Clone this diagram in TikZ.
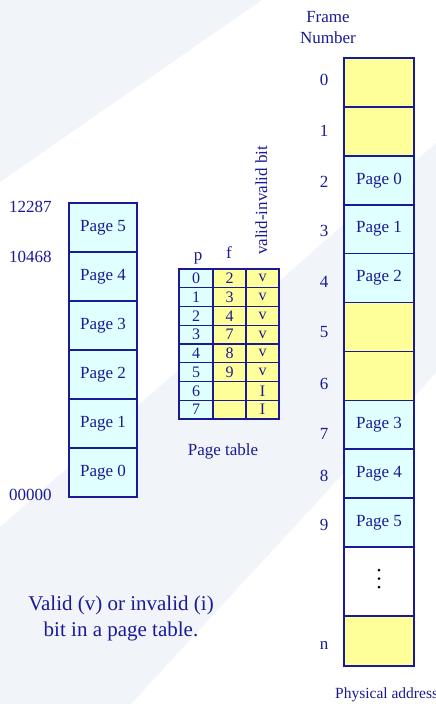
\documentclass[tikz,border=0pt]{standalone}
\usepackage{fontspec}
\setmainfont{Liberation Serif}
\usetikzlibrary{positioning}

\definecolor{ink}{RGB}{26,26,150}
\definecolor{pagecyan}{RGB}{224,255,255}
\definecolor{freeyellow}{RGB}{255,255,153}
\definecolor{band}{RGB}{241,245,249}

\begin{document}
\begin{tikzpicture}[
        x=1pt, y=-1pt,
        node distance=0pt,
        page_style/.style={draw=ink, line width=1.6pt, fill=pagecyan, minimum width=68pt, minimum height=49pt, inner sep=0pt, outer sep=0pt, text=ink, font=\fontsize{17}{20}\selectfont},
        frame_style/.style={page_style, minimum width=70pt, minimum height=48.9pt},
        free_style/.style={frame_style, fill=freeyellow},
        cell_style/.style={draw=ink, line width=1.4pt, minimum width=33pt, minimum height=18.75pt, inner sep=0pt, outer sep=0pt, text=ink, font=\fontsize{16}{18}\selectfont},
        label_style/.style={text=ink, inner sep=0pt, font=\fontsize{17}{20}\selectfont}
    ]
    \clip (0,0) rectangle (436,704);

    % Background bands
    \fill[band] (0,0) -- (262,0) -- (0,182) -- cycle;
    \fill[band] (0,527) -- (436,143) -- (436,373) -- (131,704) -- (0,704) -- cycle;

    % Logical memory
    \node[page_style] (L0) at (103,472.5) {Page 0};
    \node[page_style, above=of L0] (L1) {Page 1};
    \node[page_style, above=of L1] (L2) {Page 2};
    \node[page_style, above=of L2] (L3) {Page 3};
    \node[page_style, above=of L3] (L4) {Page 4};
    \node[page_style, above=of L4] (L5) {Page 5};

    % Addresses beside it
    \node[label_style, anchor=west] (A5) at (9,207) {12287};
    \node[label_style, anchor=west] (A4) at (9,257) {10468};
    \node[label_style, anchor=west] (A0) at (9,495) {00000};

    % Page table
    \foreach \r/\f/\v in {0/2/v,1/3/v,2/4/v,3/7/v,4/8/v,5/9/v,6//I,7//I} {
        \node[cell_style, fill=pagecyan, minimum width=34pt] (P\r) at (196,278.4+\r*18.75) {\r};
        \node[cell_style, fill=freeyellow] (F\r) at (229.5,278.4+\r*18.75) {\f};
        \node[cell_style, fill=freeyellow] (V\r) at (262.5,278.4+\r*18.75) {\v};
    }
    \node[label_style, anchor=base] (Phead) at (198,260) {p};
    \node[label_style, anchor=base] (Fhead) at (229,258) {f};
    \node[label_style, rotate=90, anchor=base west] (Vhead) at (267,255) {valid-invalid bit};
    \node[label_style, anchor=base] (PTname) at (223,455) {Page table};

    % Physical memory
    \node[free_style] (M0) at (379,82.45) {};
    \node[free_style, below=of M0] (M1) {};
    \node[frame_style, below=of M1] (M2) {Page 0};
    \node[frame_style, below=of M2] (M3) {Page 1};
    \node[frame_style, below=of M3] (M4) {Page 2};
    \node[free_style, below=of M4] (M5) {};
    \node[free_style, below=of M5] (M6) {};
    \node[frame_style, below=of M6] (M7) {Page 3};
    \node[frame_style, below=of M7] (M8) {Page 4};
    \node[frame_style, below=of M8] (M9) {Page 5};
    \node[frame_style, fill=white, minimum height=69pt, below=of M9] (Mdots) {};
    \node[free_style, minimum height=50pt, below=of Mdots] (Mn) {};
    % the gap between frame 9 and frame n
    \foreach \d in {-11.5,-3,5.5}
        \fill (Mdots.center) ++(0,\d) circle (1.5pt);

    % Frame numbers
    \foreach \n/\y in {0/80,1/131,2/182,3/231,4/282,5/332,6/384,7/434,8/476,9/525,n/645}
        \node[label_style] (N\n) at (324,\y) {\n};
    \node[label_style, anchor=base] (FrameA) at (328,23) {Frame};
    \node[label_style, anchor=base] (FrameB) at (328,43) {Number};
    \node[label_style, anchor=base west, font=\fontsize{15.5}{18}\selectfont] (Phys) at (335,698) {Physical address};

    % Caption
    \node[label_style, align=center, font=\fontsize{21}{26}\selectfont] (caption) at (121,618) {Valid (v) or invalid (i)\\bit in a page table.};
\end{tikzpicture}
\end{document}
